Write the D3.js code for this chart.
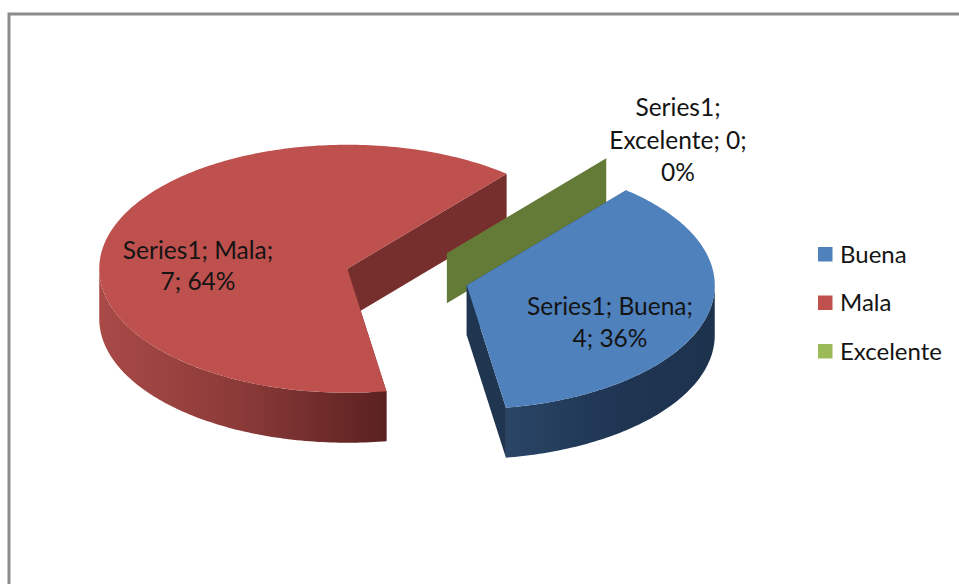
<!DOCTYPE html>
<html><head><meta charset="utf-8">
<script src="https://cdn.jsdelivr.net/npm/d3@7"></script>
<style>html,body{margin:0;padding:0;background:#fff}svg{display:block}text{font-family:Lato,"Open Sans",sans-serif;fill:#141414}</style>
</head><body><div id="c"></div>
<script>
const seriesName = "Series1";
const categories = ["Buena","Mala","Excelente"];
const values = [4,7,0];
const percents = ["36%","64%","0%"];
const legendColors = ["#4f81bd","#c0504d","#9bbb59"];
const topColors = ["#4f81bd","#be504d","#9bbb59"];
const cutColors = ["#1f3550","#772f2d","#647a37"];
const wallStops = [["#2a4566","#1f3654","#1d324d"],["#a94a47","#8a3a38","#5a2120"],["#647a37","#647a37","#647a37"]];

const W=959,H=584;
const cx=407,cy=277,rx=248,ry=124,depth=50,explode=62;
const rad=d=>d*Math.PI/180;
const svg=d3.select("#c").append("svg").attr("width",W).attr("height",H);
const defs=svg.append("defs");

svg.append("path").attr("d",`M${W},14H9V${H}`).attr("fill","none").attr("stroke","#8c8c8c").attr("stroke-width",3);

const pie=d3.pie().sort(null).startAngle(rad(40)).endAngle(rad(400));
const arcs=pie(values).map((d,i)=>{
  const mid=(d.startAngle+d.endAngle)/2;
  return {...d,i,ox:cx+explode*Math.sin(mid),oy:cy-explode*0.5*Math.cos(mid)};
});
const pt=(a,th,z=0,r=1)=>[a.ox+rx*r*Math.sin(th),a.oy-ry*r*Math.cos(th)+z];
const line=d3.line();
function arcPts(a,t0,t1,z){const n=Math.max(2,Math.ceil((t1-t0)/rad(1)));return d3.range(n+1).map(k=>pt(a,t0+(t1-t0)*k/n,z));}

function drawSlice(a){
  const g=svg.append("g");
  const i=a.i;
  const s=a.startAngle,e=a.endAngle;
  const cut=th=>{
    const p=[pt(a,th,0,0),pt(a,th,0),pt(a,th,depth),pt(a,th,depth,0)];
    g.append("path").attr("d",line(p)+"Z").attr("fill",cutColors[i]);
  };
  if(e-s<1e-6){cut(s);return;}
  cut(s);cut(e);
  const t0=Math.max(s,rad(90)),t1=Math.min(e,rad(270));
  const top=arcPts(a,t0,t1,0),bot=arcPts(a,t0,t1,depth).reverse();
  const id="wall"+i;
  const xs=top.map(p=>p[0]);
  const gr=defs.append("linearGradient").attr("id",id).attr("gradientUnits","userSpaceOnUse")
    .attr("x1",d3.min(xs)).attr("x2",d3.max(xs)).attr("y1",0).attr("y2",0);
  wallStops[i].forEach((c,k)=>gr.append("stop").attr("offset",k/(wallStops[i].length-1)).attr("stop-color",c));
  g.append("path").attr("d",line(top.concat(bot))+"Z").attr("fill",`url(#${id})`);
  const t=[pt(a,s,0,0)].concat(arcPts(a,s,e,0));
  g.append("path").attr("d",line(t)+"Z").attr("fill",topColors[i]);
}
[1,2,0].forEach(i=>drawSlice(arcs[i]));

const labelX=[610,198,678], labelY=[[305,337],[249,280],[106,139,171]];
const labelLines=[
 [`${seriesName}; ${categories[0]};`,`${values[0]}; ${percents[0]}`],
 [`${seriesName}; ${categories[1]};`,`${values[1]}; ${percents[1]}`],
 [`${seriesName};`,`${categories[2]}; ${values[2]};`,percents[2]]
];
labelLines.forEach((ls,i)=>ls.forEach((l,k)=>{
  svg.append("text").attr("x",labelX[i]).attr("y",labelY[i][k]).attr("text-anchor","middle")
    .attr("dominant-baseline","central").attr("font-size",24.5).text(l);
}));

const legendY=d3.scalePoint().domain(categories).range([254,351]);
categories.forEach((c,i)=>{
  const y=legendY(c);
  svg.append("rect").attr("x",818).attr("y",y-7).attr("width",14.5).attr("height",14.5).attr("fill",legendColors[i]);
  svg.append("text").attr("x",840).attr("y",y-1).attr("dominant-baseline","central").attr("font-size",24).text(c);
});
</script></body></html>
